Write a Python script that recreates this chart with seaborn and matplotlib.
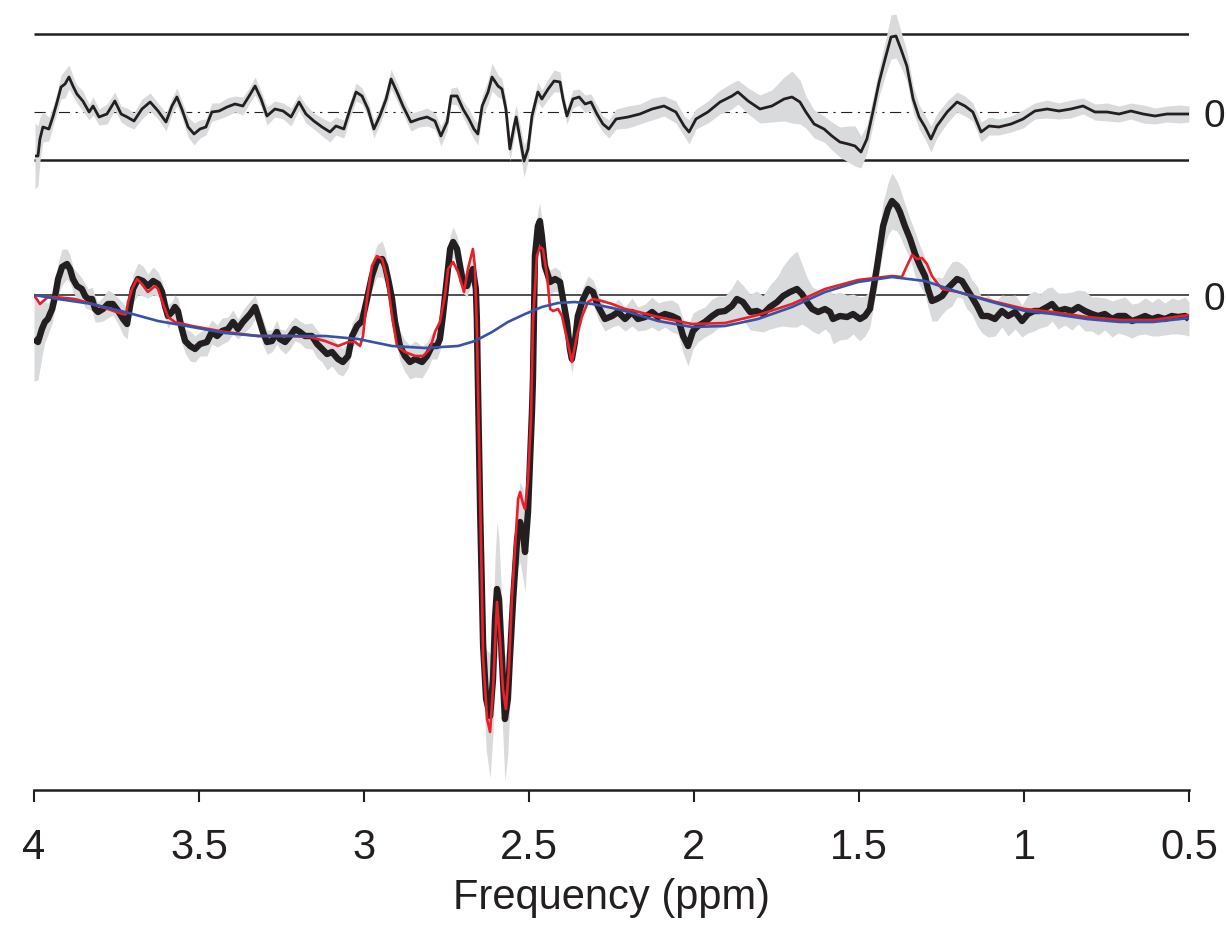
# %%
import matplotlib
matplotlib.use("Agg")
import matplotlib.pyplot as plt
import matplotlib.transforms as mtransforms
import seaborn as sns
import pandas as pd

# %% data (arbitrary units, ppm axis)
spec_ppm = [
  4.000, 3.988, 3.976, 3.967, 3.958, 3.945, 3.936, 3.927, 3.915, 3.900,
  3.891, 3.882, 3.870, 3.855, 3.845, 3.836, 3.824, 3.815, 3.806, 3.791,
  3.776, 3.761, 3.745, 3.730, 3.718, 3.709, 3.700, 3.685, 3.670, 3.655,
  3.639, 3.624, 3.612, 3.603, 3.594, 3.582, 3.573, 3.564, 3.552, 3.542,
  3.527, 3.512, 3.497, 3.476, 3.461, 3.445, 3.430, 3.412, 3.397, 3.382,
  3.367, 3.345, 3.330, 3.321, 3.306, 3.294, 3.279, 3.264, 3.255, 3.239,
  3.224, 3.209, 3.194, 3.179, 3.158, 3.142, 3.127, 3.112, 3.097, 3.079,
  3.064, 3.048, 3.036, 3.021, 3.006, 2.991, 2.976, 2.961, 2.945, 2.936,
  2.927, 2.915, 2.906, 2.891, 2.876, 2.861, 2.845, 2.824, 2.809, 2.794,
  2.779, 2.770, 2.761, 2.748, 2.739, 2.730, 2.718, 2.709, 2.700, 2.688,
  2.679, 2.670, 2.661, 2.658, 2.655, 2.648, 2.639, 2.630, 2.618, 2.609,
  2.603, 2.597, 2.591, 2.582, 2.573, 2.564, 2.558, 2.548, 2.536, 2.527,
  2.518, 2.512, 2.503, 2.491, 2.488, 2.482, 2.473, 2.467, 2.461, 2.452,
  2.436, 2.421, 2.406, 2.397, 2.385, 2.376, 2.370, 2.361, 2.352, 2.336,
  2.321, 2.306, 2.291, 2.270, 2.248, 2.230, 2.209, 2.188, 2.170, 2.148,
  2.127, 2.109, 2.088, 2.067, 2.048, 2.033, 2.018, 2.003, 1.988, 1.967,
  1.945, 1.927, 1.906, 1.885, 1.870, 1.852, 1.830, 1.809, 1.791, 1.770,
  1.748, 1.730, 1.709, 1.688, 1.673, 1.658, 1.642, 1.624, 1.603, 1.588,
  1.579, 1.558, 1.536, 1.518, 1.497, 1.482, 1.467, 1.458, 1.445, 1.436,
  1.427, 1.412, 1.400, 1.385, 1.376, 1.361, 1.345, 1.330, 1.315, 1.300,
  1.291, 1.279, 1.264, 1.248, 1.233, 1.218, 1.203, 1.188, 1.173, 1.158,
  1.142, 1.127, 1.109, 1.088, 1.067, 1.048, 1.027, 1.006, 0.988, 0.970,
  0.952, 0.930, 0.915, 0.897, 0.876, 0.855, 0.836, 0.815, 0.794, 0.776,
  0.755, 0.733, 0.715, 0.694, 0.673, 0.655, 0.633, 0.612, 0.594, 0.573,
  0.552, 0.533, 0.512, 0.500,
]
spec_amp = [
  -0.44, -0.47, -0.34, -0.27, -0.24, -0.14, -0.01, 0.16, 0.28, 0.31,
  0.26, 0.16, 0.09, 0.06, -0.01, -0.04, -0.04, -0.14, -0.17, -0.14,
  -0.09, -0.09, -0.16, -0.24, -0.29, -0.11, 0.06, 0.16, 0.14, 0.09,
  0.14, 0.11, 0.03, -0.11, -0.21, -0.17, -0.12, -0.16, -0.34, -0.46,
  -0.51, -0.54, -0.49, -0.47, -0.37, -0.41, -0.36, -0.34, -0.27, -0.34,
  -0.27, -0.19, -0.12, -0.21, -0.37, -0.47, -0.46, -0.37, -0.44, -0.47,
  -0.41, -0.34, -0.37, -0.41, -0.41, -0.49, -0.54, -0.59, -0.57, -0.64,
  -0.67, -0.61, -0.41, -0.31, -0.26, -0.04, 0.19, 0.34, 0.36, 0.29,
  0.16, -0.04, -0.27, -0.51, -0.61, -0.67, -0.64, -0.67, -0.61, -0.51,
  -0.51, -0.44, -0.21, 0.19, 0.46, 0.53, 0.46, 0.29, 0.13, 0.09,
  0.19, 0.26, 0.06, -0.24, -0.84, -2.17, -3.51, -4.04, -4.21, -3.84,
  -3.24, -2.94, -3.04, -3.64, -4.24, -4.04, -3.64, -3.04, -2.44, -2.27,
  -2.39, -2.57, -2.17, -1.17, -0.84, 0.39, 0.69, 0.74, 0.59, 0.29,
  0.13, 0.16, 0.13, -0.04, -0.27, -0.54, -0.64, -0.47, -0.21, -0.04,
  0.06, 0.03, -0.11, -0.24, -0.21, -0.17, -0.24, -0.17, -0.24, -0.22,
  -0.17, -0.22, -0.19, -0.21, -0.24, -0.41, -0.51, -0.36, -0.31, -0.27,
  -0.21, -0.17, -0.16, -0.11, -0.04, -0.07, -0.17, -0.16, -0.19, -0.12,
  -0.07, -0.01, 0.03, 0.06, 0.01, -0.07, -0.14, -0.17, -0.14, -0.17,
  -0.24, -0.21, -0.22, -0.19, -0.24, -0.21, -0.14, 0.03, 0.29, 0.49,
  0.69, 0.86, 0.94, 0.89, 0.83, 0.69, 0.56, 0.41, 0.29, 0.19,
  0.06, -0.06, -0.04, -0.01, 0.06, 0.11, 0.16, 0.14, 0.06, -0.02,
  -0.11, -0.21, -0.21, -0.24, -0.16, -0.21, -0.17, -0.26, -0.19, -0.16,
  -0.16, -0.12, -0.09, -0.16, -0.14, -0.16, -0.12, -0.16, -0.19, -0.21,
  -0.19, -0.24, -0.21, -0.21, -0.26, -0.24, -0.21, -0.24, -0.22, -0.24,
  -0.21, -0.22, -0.21, -0.24,
]
spec_sd = [
  0.42, 0.38, 0.28, 0.20, 0.16, 0.14, 0.12, 0.16, 0.18, 0.15,
  0.14, 0.12, 0.14, 0.11, 0.12, 0.10, 0.12, 0.13, 0.10, 0.12,
  0.14, 0.11, 0.13, 0.16, 0.15, 0.12, 0.14, 0.16, 0.15, 0.12,
  0.14, 0.12, 0.11, 0.13, 0.12, 0.10, 0.12, 0.13, 0.14, 0.12,
  0.15, 0.13, 0.12, 0.14, 0.12, 0.11, 0.13, 0.12, 0.12, 0.10,
  0.12, 0.13, 0.12, 0.11, 0.13, 0.12, 0.11, 0.12, 0.10, 0.12,
  0.13, 0.12, 0.11, 0.12, 0.13, 0.14, 0.13, 0.16, 0.14, 0.15,
  0.14, 0.12, 0.13, 0.12, 0.12, 0.13, 0.14, 0.16, 0.18, 0.16,
  0.14, 0.12, 0.13, 0.15, 0.16, 0.17, 0.18, 0.16, 0.14, 0.13,
  0.13, 0.12, 0.12, 0.13, 0.14, 0.15, 0.13, 0.12, 0.11, 0.11,
  0.12, 0.12, 0.12, 0.15, 0.20, 0.25, 0.35, 0.50, 0.62, 0.55,
  0.60, 0.68, 0.60, 0.55, 0.62, 0.55, 0.45, 0.35, 0.30, 0.40,
  0.45, 0.40, 0.30, 0.20, 0.16, 0.14, 0.16, 0.18, 0.15, 0.14,
  0.12, 0.12, 0.11, 0.12, 0.12, 0.13, 0.14, 0.12, 0.12, 0.12,
  0.13, 0.12, 0.13, 0.12, 0.11, 0.13, 0.12, 0.14, 0.12, 0.13,
  0.15, 0.14, 0.13, 0.16, 0.15, 0.17, 0.20, 0.18, 0.16, 0.15,
  0.17, 0.16, 0.15, 0.18, 0.20, 0.17, 0.18, 0.20, 0.18, 0.22,
  0.25, 0.30, 0.35, 0.38, 0.30, 0.25, 0.22, 0.22, 0.20, 0.22,
  0.25, 0.24, 0.22, 0.20, 0.22, 0.20, 0.18, 0.18, 0.20, 0.22,
  0.24, 0.26, 0.28, 0.25, 0.24, 0.22, 0.20, 0.22, 0.20, 0.18,
  0.18, 0.20, 0.22, 0.18, 0.20, 0.22, 0.18, 0.17, 0.20, 0.17,
  0.20, 0.17, 0.21, 0.17, 0.16, 0.20, 0.17, 0.16, 0.19, 0.20,
  0.17, 0.19, 0.17, 0.18, 0.16, 0.19, 0.17, 0.20, 0.17, 0.19,
  0.16, 0.18, 0.17, 0.19, 0.17, 0.16, 0.18, 0.17, 0.19, 0.16,
  0.18, 0.17, 0.19, 0.17,
]

fit_ppm = [
  4.000, 3.982, 3.958, 3.936, 3.876, 3.824, 3.776, 3.733, 3.721, 3.715,
  3.703, 3.688, 3.673, 3.655, 3.633, 3.624, 3.609, 3.594, 3.573, 3.521,
  3.421, 3.321, 3.218, 3.164, 3.118, 3.079, 3.048, 3.027, 3.012, 3.003,
  2.991, 2.976, 2.961, 2.945, 2.930, 2.915, 2.900, 2.876, 2.845, 2.821,
  2.800, 2.785, 2.770, 2.755, 2.745, 2.730, 2.715, 2.697, 2.685, 2.670,
  2.664, 2.658, 2.648, 2.639, 2.627, 2.618, 2.609, 2.597, 2.588, 2.579,
  2.570, 2.561, 2.552, 2.542, 2.533, 2.527, 2.518, 2.512, 2.503, 2.494,
  2.488, 2.476, 2.467, 2.458, 2.445, 2.436, 2.427, 2.412, 2.400, 2.385,
  2.370, 2.355, 2.339, 2.321, 2.306, 2.279, 2.248, 2.209, 2.179, 2.109,
  2.006, 1.906, 1.806, 1.703, 1.603, 1.503, 1.400, 1.370, 1.355, 1.339,
  1.324, 1.309, 1.294, 1.279, 1.261, 1.248, 1.200, 1.097, 0.997, 0.912,
  0.809, 0.709, 0.609, 0.500,
]
fit_amp = [
  0.00, -0.09, -0.02, -0.02, -0.04, -0.09, -0.14, -0.19, -0.19, -0.07,
  0.06, 0.16, 0.11, 0.03, 0.09, 0.06, -0.09, -0.22, -0.27, -0.31,
  -0.37, -0.41, -0.41, -0.42, -0.46, -0.51, -0.47, -0.47, -0.51, -0.41,
  -0.04, 0.29, 0.39, 0.36, 0.16, -0.21, -0.51, -0.57, -0.61, -0.61,
  -0.54, -0.37, -0.27, -0.01, 0.26, 0.33, 0.23, 0.03, 0.26, 0.46,
  0.29, -0.34, -2.04, -3.64, -4.24, -4.37, -3.94, -3.07, -3.44, -3.94,
  -4.14, -3.74, -3.04, -2.51, -2.04, -1.97, -2.09, -2.14, -1.84, -1.24,
  -0.27, 0.39, 0.48, 0.46, 0.19, -0.14, -0.16, -0.14, -0.21, -0.44,
  -0.67, -0.41, -0.21, -0.07, -0.04, -0.06, -0.09, -0.14, -0.16, -0.22,
  -0.29, -0.28, -0.20, -0.09, 0.06, 0.15, 0.19, 0.18, 0.29, 0.40,
  0.36, 0.37, 0.31, 0.19, 0.11, 0.06, 0.03, -0.06, -0.14, -0.17,
  -0.22, -0.25, -0.25, -0.20,
]

base_ppm = [
  4.000, 3.927, 3.824, 3.724, 3.624, 3.521, 3.421, 3.321, 3.218, 3.118,
  3.018, 2.915, 2.815, 2.715, 2.664, 2.612, 2.564, 2.512, 2.461, 2.412,
  2.361, 2.309, 2.261, 2.209, 2.109, 2.006, 1.906, 1.806, 1.703, 1.603,
  1.503, 1.400, 1.300, 1.200, 1.097, 0.997, 0.912, 0.809, 0.709, 0.609,
  0.500,
]
base_amp = [
  0.00, -0.04, -0.09, -0.17, -0.26, -0.32, -0.38, -0.41, -0.41, -0.41,
  -0.44, -0.51, -0.53, -0.51, -0.46, -0.37, -0.27, -0.19, -0.12, -0.08,
  -0.07, -0.09, -0.12, -0.16, -0.26, -0.32, -0.31, -0.24, -0.12, 0.03,
  0.13, 0.18, 0.14, 0.03, -0.07, -0.16, -0.19, -0.24, -0.27, -0.27,
  -0.23,
]

res_ppm = [
  3.997, 3.988, 3.982, 3.973, 3.955, 3.942, 3.930, 3.918, 3.906, 3.894,
  3.882, 3.870, 3.852, 3.833, 3.821, 3.803, 3.779, 3.755, 3.736, 3.718,
  3.697, 3.673, 3.648, 3.624, 3.600, 3.582, 3.567, 3.552, 3.533, 3.515,
  3.497, 3.479, 3.461, 3.439, 3.415, 3.391, 3.367, 3.348, 3.330, 3.312,
  3.294, 3.270, 3.245, 3.221, 3.197, 3.176, 3.152, 3.127, 3.103, 3.085,
  3.061, 3.042, 3.024, 3.006, 2.988, 2.970, 2.952, 2.933, 2.918, 2.900,
  2.882, 2.858, 2.833, 2.809, 2.785, 2.767, 2.748, 2.736, 2.718, 2.700,
  2.682, 2.667, 2.655, 2.642, 2.624, 2.612, 2.594, 2.582, 2.570, 2.558,
  2.545, 2.539, 2.527, 2.515, 2.503, 2.491, 2.473, 2.461, 2.442, 2.424,
  2.406, 2.397, 2.385, 2.367, 2.348, 2.330, 2.312, 2.294, 2.276, 2.258,
  2.236, 2.200, 2.164, 2.127, 2.091, 2.055, 2.030, 2.015, 1.994, 1.958,
  1.921, 1.885, 1.867, 1.836, 1.800, 1.764, 1.727, 1.703, 1.679, 1.661,
  1.636, 1.606, 1.582, 1.558, 1.533, 1.512, 1.494, 1.476, 1.458, 1.439,
  1.421, 1.403, 1.388, 1.373, 1.355, 1.336, 1.318, 1.300, 1.282, 1.264,
  1.233, 1.203, 1.179, 1.155, 1.130, 1.106, 1.076, 1.039, 1.003, 0.967,
  0.930, 0.894, 0.858, 0.821, 0.785, 0.748, 0.712, 0.676, 0.639, 0.603,
  0.567, 0.530, 0.500,
]
res_amp = [
  -0.44, -0.44, -0.27, -0.15, -0.17, -0.04, 0.10, 0.25, 0.28, 0.35,
  0.26, 0.18, 0.11, 0.00, 0.06, -0.05, -0.02, 0.11, -0.02, -0.05,
  -0.09, 0.03, 0.10, 0.01, -0.10, 0.06, 0.15, 0.03, -0.15, -0.22,
  -0.17, -0.15, 0.00, 0.01, 0.05, 0.08, 0.06, 0.16, 0.26, 0.13,
  -0.04, 0.03, 0.01, -0.05, 0.10, -0.02, -0.09, -0.15, -0.20, -0.14,
  -0.17, 0.03, 0.20, 0.16, 0.03, -0.17, -0.04, 0.13, 0.33, 0.20,
  0.06, -0.10, -0.07, -0.05, -0.09, -0.24, -0.10, 0.16, 0.16, 0.03,
  -0.07, -0.17, -0.22, 0.06, 0.20, 0.35, 0.26, 0.23, 0.03, -0.37,
  -0.14, -0.05, -0.27, -0.49, -0.37, -0.04, 0.20, 0.13, 0.23, 0.31,
  0.30, 0.13, -0.04, 0.13, 0.15, 0.08, 0.10, -0.02, -0.12, -0.17,
  -0.07, -0.05, -0.02, 0.03, 0.06, 0.00, -0.14, -0.20, -0.07, 0.00,
  0.10, 0.16, 0.20, 0.11, 0.03, 0.06, 0.13, 0.15, 0.10, 0.00,
  -0.12, -0.17, -0.24, -0.30, -0.32, -0.34, -0.40, -0.27, 0.00, 0.30,
  0.53, 0.75, 0.76, 0.63, 0.46, 0.13, -0.05, -0.15, -0.27, -0.14,
  0.00, 0.10, 0.06, 0.00, -0.20, -0.14, -0.15, -0.12, -0.07, 0.01,
  0.03, 0.01, 0.03, 0.06, 0.00, 0.00, -0.02, 0.01, -0.02, -0.04,
  -0.02, -0.02, -0.02,
]
res_sd = [
  0.33, 0.30, 0.22, 0.15, 0.12, 0.10, 0.10, 0.12, 0.14, 0.12,
  0.10, 0.09, 0.10, 0.08, 0.09, 0.08, 0.10, 0.09, 0.08, 0.09,
  0.08, 0.10, 0.09, 0.08, 0.09, 0.08, 0.09, 0.08, 0.10, 0.11,
  0.09, 0.08, 0.09, 0.08, 0.09, 0.08, 0.09, 0.08, 0.09, 0.08,
  0.09, 0.08, 0.08, 0.09, 0.08, 0.09, 0.08, 0.09, 0.10, 0.09,
  0.09, 0.08, 0.09, 0.08, 0.08, 0.09, 0.08, 0.09, 0.10, 0.09,
  0.08, 0.09, 0.08, 0.09, 0.08, 0.10, 0.09, 0.08, 0.09, 0.08,
  0.10, 0.10, 0.11, 0.10, 0.12, 0.14, 0.11, 0.10, 0.10, 0.12,
  0.12, 0.12, 0.14, 0.16, 0.12, 0.10, 0.10, 0.09, 0.10, 0.11,
  0.10, 0.09, 0.08, 0.09, 0.08, 0.09, 0.08, 0.09, 0.08, 0.09,
  0.10, 0.11, 0.10, 0.11, 0.10, 0.11, 0.10, 0.12, 0.10, 0.11,
  0.12, 0.13, 0.12, 0.13, 0.14, 0.16, 0.22, 0.26, 0.22, 0.16,
  0.14, 0.13, 0.14, 0.15, 0.18, 0.20, 0.16, 0.14, 0.14, 0.14,
  0.17, 0.22, 0.22, 0.18, 0.15, 0.13, 0.12, 0.12, 0.13, 0.12,
  0.11, 0.10, 0.10, 0.09, 0.10, 0.09, 0.08, 0.08, 0.09, 0.08,
  0.09, 0.08, 0.09, 0.08, 0.08, 0.09, 0.08, 0.08, 0.09, 0.08,
  0.08, 0.09, 0.08,
]

res_offset = 1.83       # residual trace drawn above the spectrum
res_limits = [0.78, -0.48]
tick_ppm = [4, 3.5, 3, 2.5, 2, 1.5, 1, 0.5]
tick_labels = ["4", "3.5", "3", "2.5", "2", "1.5", "1", "0.5"]

assert len(spec_ppm) == len(spec_amp) == len(spec_sd)
assert len(fit_ppm) == len(fit_amp)
assert len(base_ppm) == len(base_amp)
assert len(res_ppm) == len(res_amp) == len(res_sd)

spec_df = pd.DataFrame({"ppm": spec_ppm, "amp": spec_amp, "sd": spec_sd})
fit_df = pd.DataFrame({"ppm": fit_ppm, "amp": fit_amp})
base_df = pd.DataFrame({"ppm": base_ppm, "amp": base_amp})
res_df = pd.DataFrame({"ppm": res_ppm, "amp": res_amp, "sd": res_sd})
res_df["shifted"] = res_df["amp"] + res_offset

# %%
sns.set_style("white")
plt.rcParams["font.family"] = ["Liberation Sans", "DejaVu Sans"]
col_band = "#d9dadc"
col_black = "#231f20"
col_red = "#e8202a"
col_blue = "#3853a4"
fs = 30

fig = plt.figure(figsize=(12.26, 9.28), dpi=100)
ax = fig.add_axes([34 / 1226, 137 / 928, 1155 / 1226, 791 / 928])

# reference lines
ax.axhline(0, color=col_black, lw=1.1, zorder=1)
ax.axhline(res_offset, color=col_black, lw=0.8, ls=(0, (10, 5, 2, 5)), zorder=1)
for lim in res_limits:
  ax.axhline(res_offset + lim, color=col_black, lw=1.8, zorder=1)

# residual
ax.fill_between(
  res_df["ppm"],
  res_df["shifted"] - res_df["sd"],
  res_df["shifted"] + res_df["sd"],
  color=col_band, lw=0, zorder=2,
)
sns.lineplot(
  data=res_df, x="ppm", y="shifted", sort=False, estimator=None,
  color=col_black, lw=2.0, ax=ax, zorder=3,
)

# spectrum, fit, baseline
ax.fill_between(
  spec_df["ppm"],
  spec_df["amp"] - spec_df["sd"],
  spec_df["amp"] + spec_df["sd"],
  color=col_band, lw=0, zorder=2,
)
sns.lineplot(
  data=spec_df, x="ppm", y="amp", sort=False, estimator=None,
  color=col_black, lw=4.6, ax=ax, zorder=3,
)
sns.lineplot(
  data=fit_df, x="ppm", y="amp", sort=False, estimator=None,
  color=col_red, lw=1.9, ax=ax, zorder=4,
)
sns.lineplot(
  data=base_df, x="ppm", y="amp", sort=False, estimator=None,
  color=col_blue, lw=1.9, ax=ax, zorder=5,
)
for line in ax.get_lines():
  line.set_solid_joinstyle("round")
  line.set_solid_capstyle("butt")

ax.set_xlim(4, 0.5)
ax.set_ylim(-4.95, 2.96)
ax.set_xticks(tick_ppm)
ax.set_xticklabels(tick_labels)
ax.set_yticks([])
ax.set_ylabel("")
ax.set_xlabel("Frequency (ppm)", fontsize=fs, labelpad=7, color=col_black)
ax.tick_params(
  axis="x", direction="out", length=8.6, width=1.5, pad=18,
  labelsize=fs, colors=col_black, bottom=True,
)
sns.despine(ax=ax, left=True, top=True, right=True)
ax.spines["bottom"].set_linewidth(1.8)
ax.spines["bottom"].set_color(col_black)
ax.patch.set_alpha(0)

# zero labels on the right
trans = mtransforms.blended_transform_factory(ax.transAxes, ax.transData)
for y0 in [0, res_offset]:
  ax.text(1.0128, y0, "0", transform=trans, ha="left", va="center_baseline",
          fontsize=28, color=col_black, clip_on=False)

plt.savefig("out.png", dpi=100)
